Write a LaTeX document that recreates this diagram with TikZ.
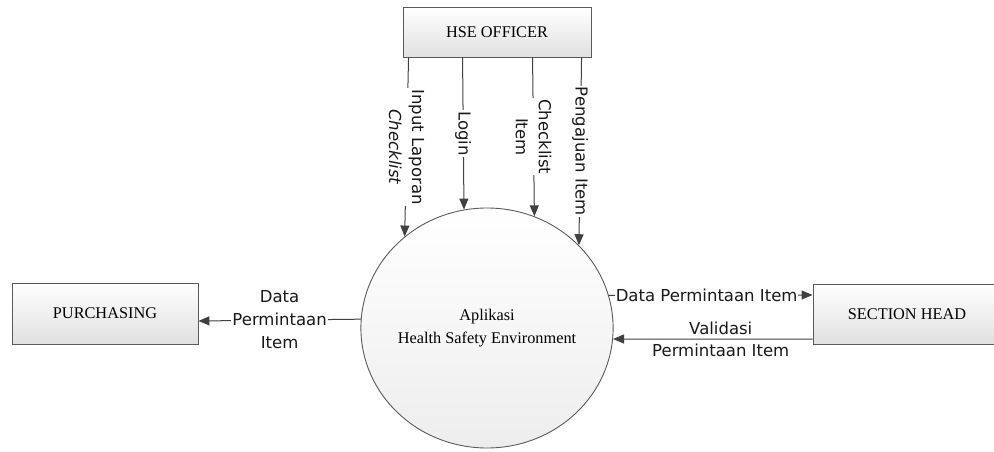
\documentclass[tikz,border=0pt]{standalone}
\usepackage{fontspec}
\setmainfont{Liberation Serif}
\newfontfamily\dejavu{DejaVu Sans}
\usetikzlibrary{arrows.meta,calc,shapes.geometric}
\definecolor{edgegray}{HTML}{5A5A5A}
\definecolor{flowgray}{HTML}{404040}
\tikzset{
  entity/.style={draw=edgegray, line width=0.9pt, top color=white, bottom color=black!12,
    font=\fontsize{16.3}{19}\selectfont, inner sep=0pt, text=black},
  process/.style={ellipse, draw=edgegray, line width=0.9pt, top color=white, bottom color=black!7,
    minimum width=250pt, minimum height=240pt, inner sep=0pt, align=center,
    font=\fontsize{16.3}{23}\selectfont, text=black},
  flow/.style={draw=flowgray, line width=1pt, -{Triangle[length=11pt,width=9pt]}},
  lab/.style={font=\dejavu\fontsize{16.5}{23}\selectfont, fill=white, inner sep=1pt, align=center, text=black!90},
  labnofill/.style={font=\dejavu\fontsize{16.5}{22}\selectfont, inner sep=1pt, align=center, text=black!90}
}
\begin{document}
\begin{tikzpicture}[x=1pt,y=-1pt]
\useasboundingbox (0,0) rectangle (994,452);
\node[entity, minimum width=188pt, minimum height=50pt] (hse) at (497,32) {HSE OFFICER};
\node[entity, minimum width=186pt, minimum height=61pt] (pur) at (105,313.5) {PURCHASING};
\node[entity, minimum width=188pt, minimum height=60pt] (sh) at (907,314) {SECTION HEAD};
\node[process] (app) at (487,328) {Aplikasi\\Health Safety Environment};

\draw[flow] ($(hse.south west)+(6,0)$) -- node[lab, rotate=-90] {Input Laporan\\\textit{Checklist}} (app.132.7);
\draw[flow] ($(hse.south west)+(60,0)$) -- node[lab, rotate=-90] {Login} (app.101.5);
\draw[flow] ($(hse.south west)+(130,0)$) -- node[lab, rotate=-90] {Checklist\\Item} (app.67.7);
\draw[flow] ($(hse.south west)+(179,0)$) -- node[lab, rotate=-90] {Pengajuan Item} (app.42.4);

\draw[flow] (app.176.8) -- node[lab] {Data\\Permintaan\\Item} ($(pur.east)+(0,7.5)$);
\draw[flow] (app.15.4) -- node[lab, pos=0.48] {Data Permintaan Item} ($(sh.west)+(0,-19)$);
\draw[flow] ($(sh.west)+(0,25)$) -- node[labnofill, pos=0.46] {Validasi\\Permintaan Item} (app.-5.1);
\end{tikzpicture}
\end{document}
